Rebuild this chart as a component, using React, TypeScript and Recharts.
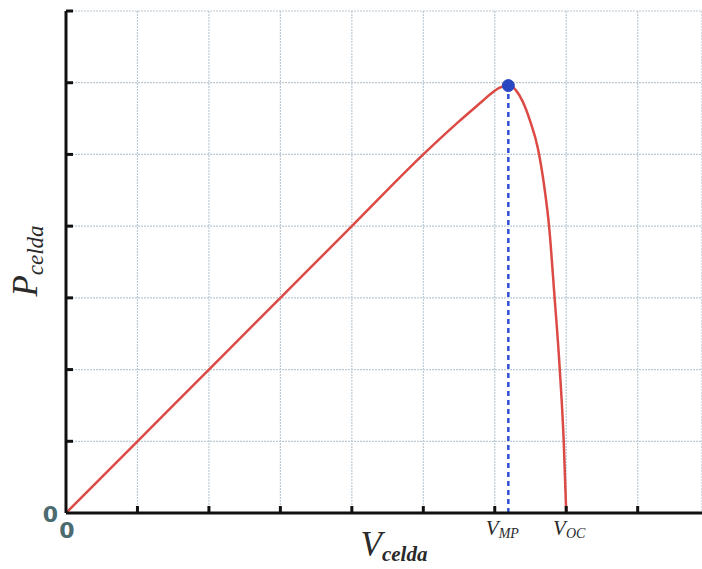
import { LineChart, Line, XAxis, YAxis, CartesianGrid, ReferenceLine, ReferenceDot } from 'recharts';

// cell voltage / power readings (arbitrary units, one grid step = 1)
const vCelda = [0, 1, 2, 3, 4, 5, 5.5, 5.8, 5.95, 6.07, 6.19, 6.3, 6.39, 6.5, 6.6, 6.7, 6.76, 6.83, 6.91, 6.965, 7.0];
const pCelda = [0, 1, 2, 3, 4, 5, 5.46, 5.72, 5.85, 5.93, 5.96, 5.89, 5.74, 5.45, 5.1, 4.5, 4.0, 3.1, 2.0, 1.0, 0];

const xTicks = [0, 1, 2, 3, 4, 5, 6, 7, 8];
const yTicks = [0, 1, 2, 3, 4, 5, 6, 7];

const V_MP = 6.19;
const P_MP = 5.96;
const V_OC = 7.0;

const data = vCelda.map((v, i) => ({ v, p: pCelda[i] }));

const serif = '"Liberation Serif", "DejaVu Serif", serif';
const textColor = '#2a2a2a';
const zeroColor = '#4b6b70';

const SubLabel = ({ x, y, main, sub, size, subSize, dy }: {
    x: number; y: number; main: string; sub: string; size: number; subSize: number; dy: number;
}) => (
    <text x={x} y={y} textAnchor="middle" fill={textColor} fontFamily={serif} fontStyle="italic">
        <tspan fontSize={size}>{main}</tspan>
        <tspan fontSize={subSize} dy={dy}>{sub}</tspan>
    </text>
);

const XTick = (props: any) => {
    const { x, y, payload } = props;
    return (
        <g>
            {payload.value > 0 && (
                <line x1={x} x2={x} y1={y} y2={y - 7} stroke="#111" strokeWidth={3} />
            )}
            {payload.value === 0 && (
                <text x={x + 1} y={y + 25} textAnchor="middle" fontSize={22} fontWeight="bold"
                    fontFamily='"DejaVu Sans", sans-serif' fill={zeroColor}>0</text>
            )}
            {payload.value === V_OC && (
                <SubLabel x={x + 3} y={y + 22} main="V" sub="OC" size={21} subSize={14} dy={3} />
            )}
        </g>
    );
};

const YTick = (props: any) => {
    const { x, y, payload } = props;
    return (
        <g>
            {payload.value > 0 && (
                <line x1={x} x2={x + 7} y1={y} y2={y} stroke="#111" strokeWidth={3} />
            )}
            {payload.value === 0 && (
                <text x={x - 8} y={y + 9} textAnchor="end" fontSize={22} fontWeight="bold"
                    fontFamily='"DejaVu Sans", sans-serif' fill={zeroColor}>0</text>
            )}
        </g>
    );
};

const VmpLabel = (props: any) => {
    const { viewBox } = props;
    return <SubLabel x={viewBox.x + viewBox.width / 2 - 6} y={viewBox.y + 22} main="V" sub="MP" size={21} subSize={14} dy={3} />;
};

const XTitle = (props: any) => {
    const { viewBox } = props;
    const cx = viewBox.x + 328;
    return (
        <text x={cx} y={556} textAnchor="middle" fill={textColor} fontFamily={serif} fontStyle="italic">
            <tspan fontSize={35}>V</tspan>
            <tspan fontSize={21} fontWeight="bold" dy={5}>celda</tspan>
        </text>
    );
};

const YTitle = (props: any) => {
    const { viewBox } = props;
    const cx = 37;
    const cy = viewBox.y + 250;
    return (
        <text x={cx} y={cy} textAnchor="middle" fill={textColor} fontFamily={serif} fontStyle="italic"
            transform={`rotate(-90, ${cx}, ${cy})`}>
            <tspan fontSize={35}>P</tspan>
            <tspan fontSize={23} dy={6}>celda</tspan>
        </text>
    );
};

export default function App() {
    return (
        <div style={{ position: 'absolute', left: 0, top: 0, width: 702, height: 569, background: '#fff' }}>
            <LineChart width={702} height={569} data={data} margin={{ top: 11, right: 0, left: 0, bottom: 0 }}>
                <CartesianGrid stroke="#bccad4" strokeDasharray="2 1" strokeWidth={1.2} />
                <XAxis
                    type="number"
                    dataKey="v"
                    domain={[0, 8.9]}
                    allowDataOverflow
                    ticks={xTicks}
                    interval={0}
                    height={56}
                    tickLine={false}
                    tickSize={0}
                    tickMargin={0}
                    axisLine={{ stroke: '#111', strokeWidth: 3 }}
                    tick={<XTick />}
                    label={{ content: <XTitle /> }}
                />
                <YAxis
                    type="number"
                    domain={[0, 7]}
                    allowDataOverflow
                    ticks={yTicks}
                    interval={0}
                    width={66}
                    tickLine={false}
                    tickSize={0}
                    tickMargin={0}
                    axisLine={{ stroke: '#111', strokeWidth: 3 }}
                    tick={<YTick />}
                    label={{ content: <YTitle /> }}
                />
                <ReferenceLine
                    segment={[{ x: V_MP, y: 0 }, { x: V_MP, y: P_MP }]}
                    stroke="#2f4fd6"
                    strokeWidth={2.5}
                    strokeDasharray="5 4"
                />
                <Line
                    type="monotone"
                    dataKey="p"
                    stroke="#dc4a45"
                    strokeWidth={2.5}
                    dot={false}
                    isAnimationActive={false}
                />
                <ReferenceDot x={V_MP} y={0} r={0} stroke="none" fill="none" label={<VmpLabel />} />
                <ReferenceDot x={V_MP} y={P_MP} r={6} fill="#2a47c2" stroke="#2a47c2" />
            </LineChart>
        </div>
    );
}
